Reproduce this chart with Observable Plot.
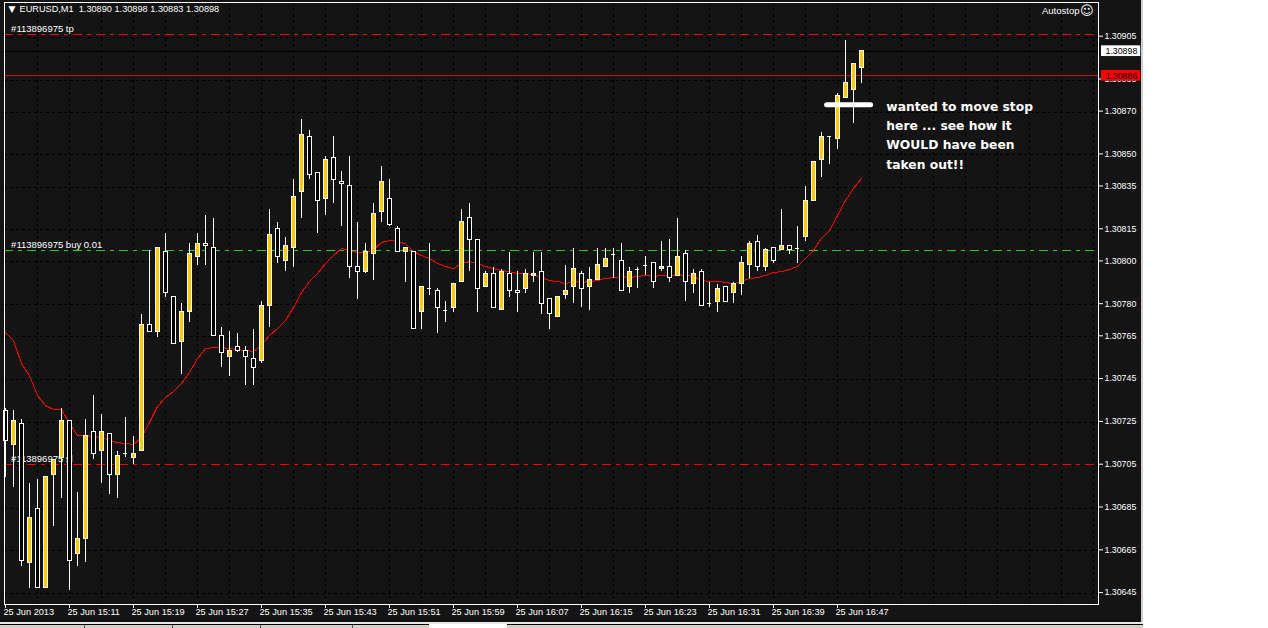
<!DOCTYPE html>
<html>
<head>
<meta charset="utf-8">
<script src="https://cdn.jsdelivr.net/npm/d3@7"></script>
<script src="https://cdn.jsdelivr.net/npm/@observablehq/plot@0.6"></script>
<style>
html,body{margin:0;padding:0;background:#fff;width:1268px;height:628px;overflow:hidden}
#chart{position:absolute;left:0;top:0;width:1141px;height:622px}
#rightEdge{position:absolute;left:1141px;top:0;width:2px;height:622px;background:#cfcfcf}
.strip{position:absolute;top:622px;height:2px;background:#e8e8e4}
.tab{position:absolute;top:624px;height:4px;background:#d4d0c8;border-top:1px solid #000;box-sizing:border-box}
.nick{position:absolute;top:625px;width:1px;height:3px;background:#555}
</style>
</head>
<body>
<div id="chart"></div>
<div id="rightEdge"></div>
<div class="strip" style="left:0;width:1143px"></div>
<div class="tab" style="left:0;width:429px"></div>
<div class="tab" style="left:507px;width:636px"></div>
<div class="nick" style="left:84px"></div>
<div class="nick" style="left:172px"></div>
<div class="nick" style="left:260px"></div>
<div class="nick" style="left:352px"></div>
<script>
// Prices are quoted as points above 1.30000 (1 point = 0.00001)
const priceBase = 1.3;
const openPts = [730,714,724,659,684,647,700,708,725,663,670,720,711,719,700,710,708,711,770,767,804,783,762,776,802,808,806,765,755,760,758,754,753,779,815,800,806,832,858,841,829,848,837,835,797,795,803,823,829,815,804,804,776,787,786,777,778,790,820,810,788,794,777,794,786,787,793,795,782,774,784,788,794,788,791,797,803,800,788,796,798,799,796,797,793,803,789,795,780,781,788,785,789,798,809,797,806,805,807,806,811,828,847,858,857,876,880,890];
const highPts = [731,730,726,696,698,699,707,731,725,692,726,737,728,719,711,727,718,775,805,806,813,783,780,808,813,821,820,769,767,766,760,768,781,824,818,811,838,866,861,841,849,858,842,849,818,808,827,844,838,816,806,804,788,808,787,781,789,824,827,810,795,797,796,804,795,796,804,804,782,783,798,806,795,797,806,806,806,808,797,797,802,799,809,810,820,805,796,796,790,789,788,790,802,809,812,806,806,824,807,816,835,846,860,858,878,903,892,898];
const lowPts = [699,694,657,647,647,647,676,689,646,657,659,707,696,691,689,708,705,711,767,764,783,761,747,771,798,798,765,750,746,757,742,742,752,769,799,795,797,820,838,813,821,827,816,792,782,794,791,818,816,804,790,768,768,784,766,771,776,790,795,776,788,778,777,783,776,785,790,775,768,774,782,780,778,777,791,797,792,786,785,787,793,787,795,790,793,781,785,779,778,776,781,780,784,792,795,795,799,805,803,799,809,828,839,845,852,876,864,883];
const closePts = [716,725,660,680,647,699,707,725,660,670,718,710,720,700,709,710,710,770,767,806,785,761,776,803,808,807,765,757,758,758,755,750,779,812,802,807,830,859,840,828,847,838,836,797,795,804,822,837,817,804,806,768,788,787,778,777,789,818,810,787,794,778,795,786,785,794,794,780,775,783,786,796,787,791,798,801,803,786,795,796,798,790,797,792,802,790,794,779,780,787,781,789,799,808,797,805,800,807,805,806,828,846,858,858,877,883,892,898];
const maPts = [766.5,762.8,752.0,746.4,737.1,732.4,730.6,730.6,724.0,718.4,718.4,717.9,717.5,716.1,715.1,714.7,714.2,717.5,724.5,731.9,736.2,739.0,742.7,747.8,754.4,759.0,759.5,759.5,759.0,758.6,758.1,757.7,760.5,765.1,768.4,772.1,778.2,785.2,790.4,794.1,798.8,802.5,805.8,804.9,803.9,803.9,805.3,808.6,809.5,809.1,808.1,804.4,802.5,801.1,798.8,797.4,796.4,798.8,799.7,798.8,797.4,796.4,795.5,795.0,794.1,794.1,793.6,792.2,790.8,790.4,789.4,790.4,789.9,790.4,790.8,791.8,792.2,792.7,792.2,792.7,793.2,792.7,793.2,793.2,793.6,793.2,792.7,790.8,790.4,790.4,789.9,789.4,790.4,791.8,792.2,793.2,794.6,795.0,796.0,797.4,801.1,804.9,810.5,814.2,821.2,828.2,833.8,838.5];

const timeTickBars = [0,8,16,24,32,40,48,56,64,72,80,88,96,104];
const timeTickLabels = ["25 Jun 2013","25 Jun 15:11","25 Jun 15:19","25 Jun 15:27","25 Jun 15:35","25 Jun 15:43","25 Jun 15:51","25 Jun 15:59","25 Jun 16:07","25 Jun 16:15","25 Jun 16:23","25 Jun 16:31","25 Jun 16:39","25 Jun 16:47"];
const priceTicks = [1.30905,1.30885,1.30870,1.30850,1.30835,1.30815,1.30800,1.30780,1.30765,1.30745,1.30725,1.30705,1.30685,1.30665,1.30645];
const gridBars = d3.range(4,137,4);

const tpPrice = 1.30906, buyPrice = 1.30805, slPrice = 1.30705;
const askPrice = 1.30898, bidPrice = 1.30886, bidLinePrice = 1.308868;
const orderLabelRows = [
  {label:"#113896975 tp", price:1.30908},
  {label:"#113896975 buy 0.01", price:1.30807},
  {label:"#113896975 sl", price:1.30707}
];
const noteLines = ["wanted to move stop","here ... see how it","WOULD have been","taken out!!"];
const notePrices = [1.30872,1.30863,1.30854,1.30845];
const stopMark = {from:102.7, to:108.2, price:1.30873};

const bars = openPts.map((o,i)=>({i,open:priceBase+o/1e5,high:priceBase+highPts[i]/1e5,low:priceBase+lowPts[i]/1e5,close:priceBase+closePts[i]/1e5,ma:priceBase+maPts[i]/1e5}));
const up = bars.filter(d=>closePts[d.i]>openPts[d.i]);
const down = bars.filter(d=>closePts[d.i]<openPts[d.i]);
const flat = bars.filter(d=>closePts[d.i]===openPts[d.i]);
const fontT = "'Liberation Sans', Arial, sans-serif";
const crisp = {shapeRendering:"crispEdges"};
const dash = "9,5,4,5";

const plot = Plot.plot({
  width:1141, height:622,
  marginLeft:4, marginRight:43, marginTop:2, marginBottom:18,
  style:{background:"#141414",fontFamily:fontT,fontSize:"9.5px",color:"#fff"},
  x:{domain:[0,107],range:[5,861],axis:null},
  y:{domain:[1.30645,1.30905],range:[592.1,35.7],axis:null},
  marks:[
    Plot.ruleX(gridBars,{stroke:"#000",strokeDasharray:"3,3",...crisp}),
    Plot.ruleY(priceTicks,{stroke:"#000",strokeDasharray:"3,3",dy:1,...crisp}),
    Plot.ruleY([askPrice],{stroke:"#000",...crisp}),
    Plot.ruleY([bidLinePrice],{stroke:"#c81414",...crisp}),
    Plot.ruleY([tpPrice,slPrice],{stroke:"#ff0000",strokeDasharray:dash,...crisp}),
    Plot.ruleY([buyPrice],{stroke:"#22cc22",strokeDasharray:dash,...crisp}),
    Plot.text(orderLabelRows,{x:()=>0.7,y:"price",dy:-0.5,text:"label",textAnchor:"start",fill:"#fff",fontSize:9.5}),
    Plot.line(bars,{x:"i",y:"ma",stroke:"#ff0000",strokeWidth:1,...crisp}),
    Plot.ruleX(bars,{x:"i",y1:"low",y2:"high",stroke:"#fff",...crisp}),
    Plot.rect(up,{x1:d=>d.i-0.25,x2:d=>d.i+0.25,y1:"open",y2:"close",fill:"#ffcc00",stroke:"#fff",...crisp}),
    Plot.rect(down,{x1:d=>d.i-0.25,x2:d=>d.i+0.25,y1:"open",y2:"close",fill:"#000",stroke:"#fff",...crisp}),
    Plot.ruleY(flat,{y:"close",x1:d=>d.i-0.3,x2:d=>d.i+0.3,stroke:"#fff",...crisp}),
    Plot.ruleY([stopMark],{y:"price",x1:"from",x2:"to",stroke:"#fff",strokeWidth:5,strokeLinecap:"round"}),
    Plot.text(noteLines,{x:()=>110.1,y:(d,i)=>notePrices[i],text:d=>d,textAnchor:"start",fill:"#fff",fontFamily:"DejaVu Sans",fontWeight:"bold",fontSize:12.3}),
    Plot.frame({stroke:"#fff",...crisp}),
    Plot.axisY({anchor:"right",ticks:priceTicks,tickSize:4,tickPadding:2,tickFormat:d3.format(".5f"),stroke:"#fff",fill:"#fff",fontSize:8.8,label:null}),
    Plot.axisX({anchor:"bottom",ticks:timeTickBars,tickSize:4,tickFormat:()=>"",stroke:"#fff",label:null}),
    Plot.text(timeTickLabels,{x:(d,i)=>timeTickBars[i],frameAnchor:"bottom",lineAnchor:"top",dy:4,dx:-2,text:d=>d,textAnchor:"start",fill:"#fff",fontSize:9.2}),
    Plot.rect([askPrice],{x1:()=>137,x2:()=>141.9,y1:d=>d-0.000025,y2:d=>d+0.000025,fill:"#fff"}),
    Plot.text([askPrice],{x:()=>137.5,y:d=>d,text:d3.format(".5f"),textAnchor:"start",fill:"#000",fontSize:8.8}),
    Plot.rect([bidPrice],{x1:()=>137,x2:()=>141.9,y1:d=>d-0.00002,y2:d=>d+0.00003,fill:"#ff0000"}),
    Plot.text([bidPrice],{x:()=>137.5,y:d=>d+0.000005,text:d3.format(".5f"),textAnchor:"start",fill:"#000",fontSize:8.8}),
    Plot.text(["▼"],{frameAnchor:"top-left",dx:4,dy:3,fill:"#fff",fontSize:9,fontFamily:"DejaVu Sans",lineAnchor:"top",textAnchor:"start"}),
    Plot.text(["EURUSD,M1  1.30890 1.30898 1.30883 1.30898"],{frameAnchor:"top-left",dx:15,dy:3,fill:"#fff",fontSize:9.2,lineAnchor:"top",textAnchor:"start"}),
    Plot.text(["Autostop"],{frameAnchor:"top-right",dx:-19,dy:5,fill:"#fff",fontSize:9.5,lineAnchor:"top",textAnchor:"end"}),
    Plot.text(["☺"],{frameAnchor:"top-right",dx:-5,dy:3,fill:"#fff",fontSize:13,fontFamily:"DejaVu Sans",lineAnchor:"top",textAnchor:"end"})
  ]
});
document.getElementById("chart").append(plot);
</script>
</body>
</html>
